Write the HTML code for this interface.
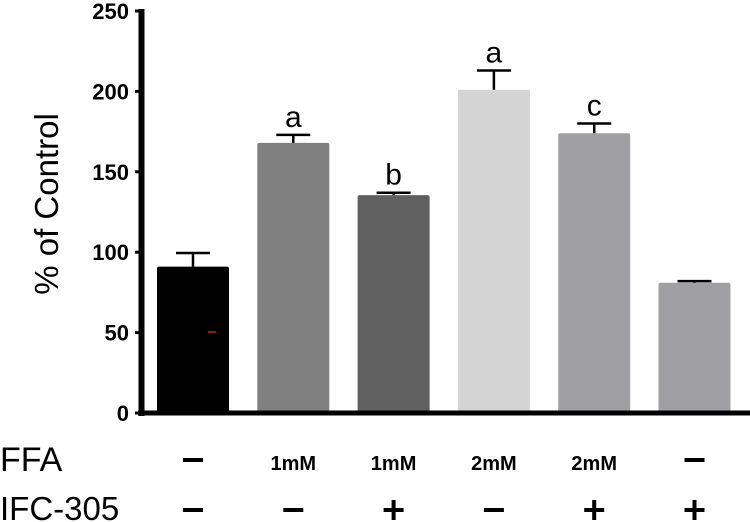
<!DOCTYPE html>
<html><head><meta charset="utf-8"><style>
body{margin:0;background:#fff}
svg{display:block;font-family:"Liberation Sans",Arial,sans-serif}
</style></head><body>
<svg id="chart" width="750" height="522" viewBox="0 0 750 522"></svg>
<script>
const categories=["Control","FFA 1mM","FFA 1mM + IFC-305","FFA 2mM","FFA 2mM + IFC-305","IFC-305"];
const values=[91,168,135.5,201,174,81];
const errors=[8.5,5,1.5,12,6,1];
const letters=["","a","b","a","c",""];
const colors=["#000000","#808080","#606060","#d4d4d4","#a0a0a4","#a0a0a4"];
const yTicks=[0,50,100,150,200,250];
const ffaLabels=["–","1mM","1mM","2mM","2mM","–"];
const ifcLabels=["–","–","+","–","+","+"];

const NS="http://www.w3.org/2000/svg";
const svg=document.getElementById('chart');
const y0=413,pxPer=1.608;
function yS(v){return y0-v*pxPer;}
function xS(i){return 193+i*100.3;}
const bw=72;
function mk(tag,attrs,txt){const e=document.createElementNS(NS,tag);for(const k in attrs)e.setAttribute(k,attrs[k]);if(txt!==undefined)e.textContent=txt;svg.appendChild(e);return e;}

values.forEach((v,i)=>{
  const b=mk('rect',{x:xS(i)-bw/2,y:yS(v),width:bw,height:y0-yS(v),rx:2,fill:colors[i]});
  
  
  const top=yS(v+errors[i]);
  const e=mk('path',{d:`M${xS(i)} ${yS(v)}V${top}M${xS(i)-17} ${top}H${xS(i)+17}`,stroke:'#000','stroke-width':2.5,fill:'none'});
  
  
  if(letters[i]){
    const t=mk('text',{x:xS(i),y:top-8,'text-anchor':'middle','font-size':30},letters[i]);
    
    
  }
});
const rm=mk('rect',{x:208,y:331,width:8,height:2,fill:'#8b1a1a'});



const ya=mk('line',{x1:141.5,y1:9,x2:141.5,y2:416,stroke:'#000','stroke-width':6});


const xa=mk('line',{x1:138,y1:413,x2:750,y2:413,stroke:'#000','stroke-width':5});


yTicks.forEach(t=>{
  const tk=mk('line',{x1:135,y1:yS(t),x2:141,y2:yS(t),stroke:'#000','stroke-width':3});
  
  
  const tl=mk('text',{x:129,y:yS(t)+8,'text-anchor':'end','font-size':22,'font-weight':'bold'},t);
  
  
});
const yt=mk('text',{x:0,y:0,'text-anchor':'middle','font-size':33,transform:'translate(58,204) rotate(-90)'},'% of Control');



const f=mk('text',{x:0,y:471,'font-size':34},'FFA');


const ic=mk('text',{x:0,y:520,'font-size':33},'IFC-305');


ffaLabels.forEach((l,i)=>{
  let t;
  if(l==='–'){t=mk('rect',{x:xS(i)-10,y:458,width:20,height:4,fill:'#000'});}
  else{t=mk('text',{x:xS(i),y:470,'text-anchor':'middle','font-size':20,'font-weight':'bold'},l);}
  
  
});
ifcLabels.forEach((l,i)=>{
  let t;
  if(l==='–'){t=mk('rect',{x:xS(i)-10,y:508,width:20,height:4,fill:'#000'});}
  else{t=mk('path',{d:`M${xS(i)-10} 510H${xS(i)+10}M${xS(i)} 500V520`,stroke:'#000','stroke-width':4,fill:'none'});}
  
  
});
</script>
</body></html>
